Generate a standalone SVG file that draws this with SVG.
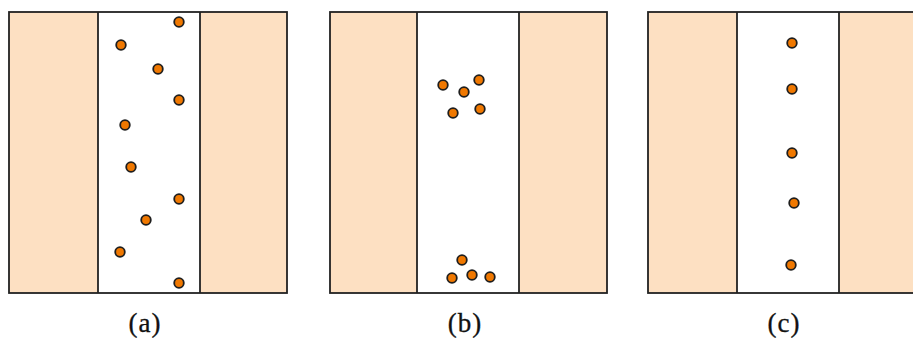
<svg xmlns="http://www.w3.org/2000/svg" width="913" height="338" viewBox="0 0 913 338">
<style>
.wall{fill:#fde0c2;stroke:none}
.ch{fill:#ffffff;stroke:none}
.frame{fill:none;stroke:#222;stroke-width:1.8}
.ln{stroke:#222;stroke-width:1.8}
.dot{fill:#f07800;stroke:#1e1e1e;stroke-width:1.8}
.lbl{font-family:"Liberation Serif","Times New Roman",serif;font-size:27px;fill:#111;stroke:#111;stroke-width:0.3;text-anchor:middle;letter-spacing:1px}
</style>
<rect width="913" height="338" fill="#ffffff"/>
<g id="panel-a">
<rect class="wall" x="9" y="12" width="278" height="281"/>
<rect class="ch" x="98" y="12" width="102" height="281"/>
<rect class="frame" x="9" y="12" width="278" height="281"/>
<line class="ln" x1="98" y1="12" x2="98" y2="293"/>
<line class="ln" x1="200" y1="12" x2="200" y2="293"/>
<circle class="dot" cx="179" cy="22" r="4.8"/>
<circle class="dot" cx="121" cy="45" r="4.8"/>
<circle class="dot" cx="158" cy="69" r="4.8"/>
<circle class="dot" cx="179" cy="100" r="4.8"/>
<circle class="dot" cx="125" cy="125" r="4.8"/>
<circle class="dot" cx="131" cy="167" r="4.8"/>
<circle class="dot" cx="179" cy="199" r="4.8"/>
<circle class="dot" cx="146" cy="220" r="4.8"/>
<circle class="dot" cx="120" cy="252" r="4.8"/>
<circle class="dot" cx="179" cy="283" r="4.8"/>
<text class="lbl" x="145" y="332">(a)</text>
</g>
<g id="panel-b">
<rect class="wall" x="330" y="12" width="277" height="281"/>
<rect class="ch" x="417" y="12" width="102" height="281"/>
<rect class="frame" x="330" y="12" width="277" height="281"/>
<line class="ln" x1="417" y1="12" x2="417" y2="293"/>
<line class="ln" x1="519" y1="12" x2="519" y2="293"/>
<circle class="dot" cx="443" cy="85" r="4.8"/>
<circle class="dot" cx="464" cy="92" r="4.8"/>
<circle class="dot" cx="479" cy="80" r="4.8"/>
<circle class="dot" cx="453" cy="113" r="4.8"/>
<circle class="dot" cx="480" cy="109" r="4.8"/>
<circle class="dot" cx="462" cy="260" r="4.8"/>
<circle class="dot" cx="452" cy="278" r="4.8"/>
<circle class="dot" cx="472" cy="275" r="4.8"/>
<circle class="dot" cx="490" cy="277" r="4.8"/>
<text class="lbl" x="465" y="332">(b)</text>
</g>
<g id="panel-c">
<rect class="wall" x="648" y="12" width="275" height="281"/>
<rect class="ch" x="737" y="12" width="102" height="281"/>
<rect class="frame" x="648" y="12" width="275" height="281"/>
<line class="ln" x1="737" y1="12" x2="737" y2="293"/>
<line class="ln" x1="839" y1="12" x2="839" y2="293"/>
<circle class="dot" cx="792" cy="43" r="4.8"/>
<circle class="dot" cx="792" cy="89" r="4.8"/>
<circle class="dot" cx="792" cy="153" r="4.8"/>
<circle class="dot" cx="794" cy="203" r="4.8"/>
<circle class="dot" cx="791" cy="265" r="4.8"/>
<text class="lbl" x="784" y="332">(c)</text>
</g>
<g id="connectors"/>
</svg>
